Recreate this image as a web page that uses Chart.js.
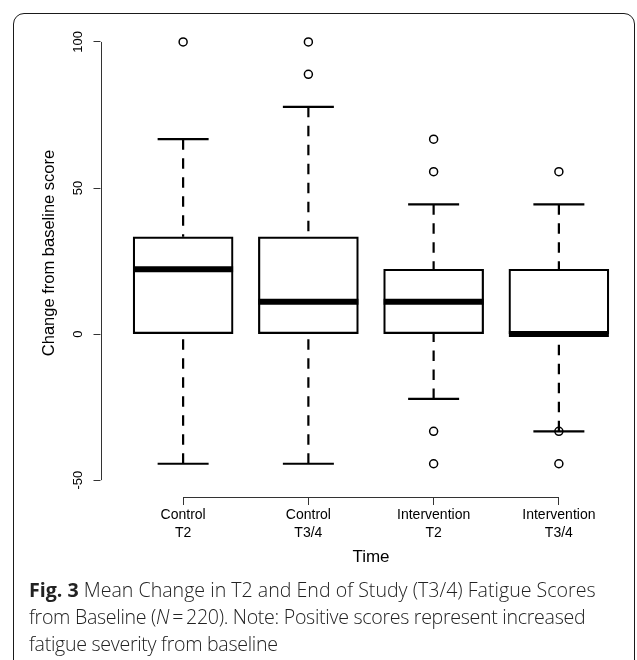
<!DOCTYPE html>
<html>
<head>
<meta charset="utf-8">
<script src="https://cdn.jsdelivr.net/npm/chart.js@4/dist/chart.umd.min.js"></script>
<style>
  html, body { margin: 0; padding: 0; background: #fff; }
  body { width: 637px; height: 660px; position: relative; overflow: hidden; }
  #frame {
    position: absolute; left: 13px; top: 13px; width: 622px; height: 700px;
    border: 1.5px solid #1a1a1a; border-radius: 11px; box-sizing: border-box;
  }
  #wrap { position: absolute; left: 0; top: 0; width: 637px; height: 580px; }
  #caption {
    position: absolute; left: 29px; top: 576px; width: 605px;
    font-family: "Open Sans", sans-serif; font-size: 19.6px; line-height: 27px;
    font-weight: 300; color: #222; white-space: nowrap;
  }
  #caption b { font-weight: 700; }
  #caption .tight { letter-spacing: -0.3px; }
</style>
</head>
<body>
<div id="frame"></div>
<div id="wrap"><canvas id="chart" width="637" height="580"></canvas></div>
<div id="caption"><div><b>Fig. 3</b> Mean Change in T2 and End of Study (T3/4) Fatigue Scores</div><div class="tight">from Baseline (<i>N</i>&thinsp;=&thinsp;220). Note: Positive scores represent increased</div><div class="tight">fatigue severity from baseline</div></div>
<script>
// boxplot stats (change from baseline score)
const groups = [['Control', 'T2'], ['Control', 'T3/4'], ['Intervention', 'T2'], ['Intervention', 'T3/4']]
const lowerWhisker = [-44.4, -44.4, -22.2, -33.3]
const q1 = [0, 0, 0, 0]
const medians = [22.2, 11.1, 11.1, 0]
const q3 = [33.3, 33.3, 22.2, 22.2]
const upperWhisker = [66.7, 77.8, 44.4, 44.4]
const outliers = [[100], [100, 88.9], [66.7, 55.6, -33.3, -44.4], [55.6, -33.3, -44.4]]
const yTicks = [-50, 0, 50, 100]

const FONT = '"Liberation Sans", Arial, Helvetica, sans-serif'
const GAP_X = 16   // R style: x axis sits below the plot region
const GAP_Y = 20   // and y axis to the left of it

let boxes = groups.map((g, i) => ({x: i + 1, y: [q1[i], q3[i]]}))
let meds = groups.map((g, i) => ({x: i + 1, y: medians[i]}))
let caps = []
let whiskers = []
groups.forEach((g, i) => {
    caps.push({x: i + 1, y: lowerWhisker[i]}, {x: i + 1, y: upperWhisker[i]})
    whiskers.push({x: i + 1, y: upperWhisker[i]}, {x: i + 1, y: q3[i]}, {x: i + 1, y: null})
    whiskers.push({x: i + 1, y: lowerWhisker[i]}, {x: i + 1, y: q1[i]}, {x: i + 1, y: null})
})
let outPts = []
outliers.forEach((arr, i) => arr.forEach(v => outPts.push({x: i + 1, y: v})))

// axis lines that only span first to last tick, like R's axis()
const rAxes = {
    id: 'rAxes',
    afterDraw(chart) {
        const {ctx, chartArea, scales: {x, y}} = chart
        ctx.save()
        ctx.setLineDash([])
        ctx.strokeStyle = '#333'
        ctx.lineWidth = 1
        ctx.beginPath()
        let ax = Math.round(chartArea.left - GAP_Y) + 0.5
        ctx.moveTo(ax, y.getPixelForValue(yTicks[0]))
        ctx.lineTo(ax, y.getPixelForValue(yTicks[yTicks.length - 1]))
        let ay = Math.round(chartArea.bottom + GAP_X) + 0.5
        ctx.moveTo(x.getPixelForValue(1), ay)
        ctx.lineTo(x.getPixelForValue(groups.length), ay)
        ctx.stroke()
        ctx.restore()
    }
}

Chart.defaults.font.family = FONT
Chart.defaults.color = '#000'

new Chart(document.getElementById('chart'), {
    type: 'bar',
    data: {
        datasets: [
            {
                type: 'scatter', label: 'median', data: meds, order: 0,
                pointStyle: 'line', pointRadius: 50, pointBorderWidth: 6,
                borderColor: '#000', pointHoverRadius: 50
            }, {
                type: 'scatter', label: 'outliers', data: outPts, order: 1,
                pointStyle: 'circle', pointRadius: 4, pointBorderWidth: 1.5,
                borderColor: '#000', backgroundColor: 'rgba(0,0,0,0)'
            }, {
                type: 'scatter', label: 'caps', data: caps, order: 2,
                pointStyle: 'line', pointRadius: 25.5, pointBorderWidth: 2.2,
                borderColor: '#000'
            }, {
                type: 'line', label: 'whiskers', data: whiskers, order: 3,
                borderColor: '#000', borderWidth: 2.2, borderDash: [10.5, 8.5],
                pointRadius: 0, spanGaps: false, fill: false
            }, {
                type: 'bar', label: 'box', data: boxes, order: 4,
                backgroundColor: '#fff', borderColor: '#000', borderWidth: 2.2,
                borderSkipped: false, barThickness: 100
            }
        ]
    },
    options: {
        responsive: false,
        animation: false,
        layout: { autoPadding: false, padding: { top: 25, right: 15.5, left: 0, bottom: 0 } },
        plugins: { legend: { display: false }, tooltip: { enabled: false } },
        scales: {
            x: {
                type: 'linear', min: 0.5, max: 4.5, offset: false,
                afterBuildTicks: (s) => { s.ticks = groups.map((g, i) => ({value: i + 1})) },
                afterFit: (s) => { s.height = 99; s.paddingLeft = 0; s.paddingRight = 0 },
                border: { display: false },
                grid: {
                    offset: false, drawOnChartArea: false, tickLength: GAP_X + 8,
                    tickBorderDash: [0, GAP_X, 8, 40], tickColor: '#333', tickWidth: 1
                },
                ticks: {
                    autoSkip: false, maxRotation: 0, padding: 1,
                    font: { size: 14, lineHeight: 1.3 },
                    callback: (v, i) => groups[i]
                },
                title: {
                    display: true, text: 'Time',
                    font: { size: 17 }, padding: { top: 0, bottom: 12 }
                }
            },
            y: {
                min: -50.3, max: 105.8,
                afterBuildTicks: (s) => { s.ticks = yTicks.map(v => ({value: v})) },
                afterFit: (s) => { s.width = 120.5; s.paddingTop = 0; s.paddingBottom = 0 },
                border: { display: false },
                grid: {
                    drawOnChartArea: false, tickLength: GAP_Y + 7,
                    tickBorderDash: [7, GAP_Y + 40], tickColor: '#333', tickWidth: 1
                },
                ticks: {
                    minRotation: 90, maxRotation: 90, crossAlign: 'center', padding: 4.5,
                    font: { size: 13 }
                },
                title: {
                    display: true, text: 'Change from baseline score',
                    font: { size: 16.5 }, padding: { top: 40, bottom: 0 }
                }
            }
        }
    },
    plugins: [rAxes]
})
</script>
</body>
</html>
